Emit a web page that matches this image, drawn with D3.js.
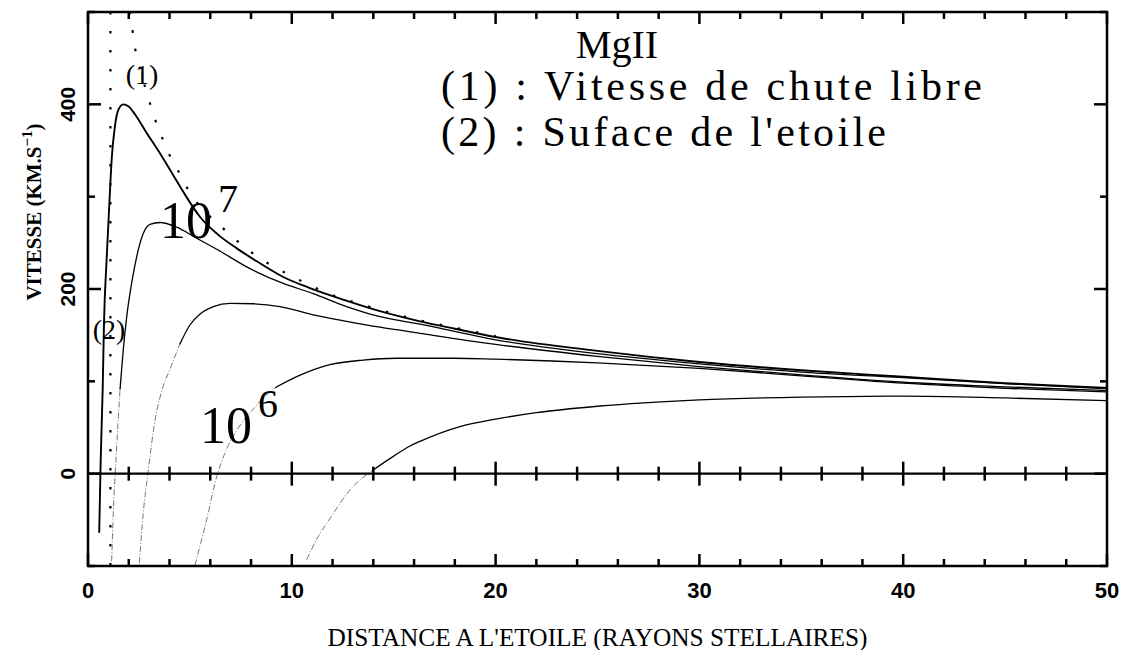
<!DOCTYPE html>
<html>
<head>
<meta charset="utf-8">
<script src="https://cdn.jsdelivr.net/npm/d3@7"></script>
<style>
  body { margin: 0; background: #fff; }
</style>
</head>
<body>
<svg id="chart" width="1123" height="650"></svg>
<script>
// velocity profiles [distance (stellar radii), velocity (km/s)]
const curveA = [[0.55,-64],[0.62,12],[0.72,91],[0.785,163],[0.92,235],[1.08,307],[1.16,340],[1.32,376],[1.49,394],[1.73,400],[1.98,398],[2.31,389],[2.88,369],[3.53,347],[4.19,323],[4.68,305],[5.5,278],[6.32,260],[7.3,244],[8.28,230],[9.58,213],[10.89,201],[12.6,188],[14.33,176],[16.29,165],[18,157],[20,148],[25,133],[30,121],[35,112],[40,105],[45,98],[50,93]];
const curveB = [[1.16,-95],[1.24,-43],[1.41,30],[1.57,91],[1.73,134],[1.9,170],[2.14,206],[2.39,235],[2.71,260],[3.04,270],[3.53,272],[4.35,267],[5.33,255],[6.32,243],[7.95,222],[9.58,206],[11.05,195],[12.69,181],[14.33,170],[16.29,162],[20,145],[25,130],[30,119],[35,110],[40,104],[45,97.5],[50,92]];
const curveC = [[2.52,-97],[2.71,-43],[2.96,4],[3.29,58],[3.7,95],[4.02,113],[4.5,140],[5.0,161],[5.5,173],[6.15,181],[6.97,184.5],[8.11,184],[9.42,181],[11.05,172],[12.69,165],[14.33,158.6],[16.29,152],[20,140],[25,127],[30,116],[35,107],[40,99],[45,94],[50,90]];
const curveD = [[5.25,-99],[5.82,-50],[6.32,-3],[6.81,27],[7.3,47],[7.79,62],[8.11,70],[8.6,82],[9.18,93],[10.24,105],[11.87,118],[13.5,123],[15.14,125],[16.29,125],[18,125],[20,124],[25,120],[30,114],[35,106],[40,98],[45,92.5],[50,88.5]];
const curveE = [[10.73,-93],[11.3,-68],[11.71,-54],[13.0,-14],[13.99,4],[15.0,19],[15.8,30],[16.29,35],[18.25,51],[20,59],[22,66],[25,73],[30,80],[35,83],[40,84],[45,82],[50,79]];
// where each profile turns from the faint dashed trace into a solid line
const solidFrom = [0, 1.57, 4.5, 9.18, 13.99];

// (1) free-fall velocity, dotted
const freeFall = [[2.05,500],[2.14,488],[2.26,467],[2.47,446],[2.96,407],[3.24,387],[3.58,367],[3.96,347],[4.42,328],[4.88,309],[6.81,262],[7.54,248],[8.31,235],[9.13,224],[9.99,214],[10.81,205],[11.68,196],[12.56,189],[13.48,183],[14.38,177],[16.29,166],[18,158],[20,149]];
// (2) stellar surface, dotted vertical
const surfaceX = 1.1;

const xTickLabels = [0, 10, 20, 30, 40, 50];
const yTickLabels = [0, 200, 400];
const legendLines = ["MgII", "(1) : Vitesse de chute libre", "(2) : Suface de l'etoile"];

const svg = d3.select("#chart");

const x = d3.scaleLinear().domain([0, 50]).range([88, 1107]);
const y = d3.scaleLinear().domain([-100, 500]).range([566, 12]);

const xMinor = d3.range(0, 51, 2);
const yMinor = d3.range(-100, 501, 100);

svg.append("clipPath").attr("id", "plot-clip")
  .append("rect")
  .attr("x", x(0)).attr("y", y(500))
  .attr("width", x(50) - x(0)).attr("height", y(-100) - y(500));

const plot = svg.append("g").attr("clip-path", "url(#plot-clip)");

const line = d3.line()
  .x(d => x(d[0]))
  .y(d => y(d[1]))
  .curve(d3.curveMonotoneX);

// dotted references
plot.append("path")
  .attr("d", line(freeFall))
  .attr("fill", "none")
  .attr("stroke", "#000")
  .attr("stroke-width", 2.2)
  .attr("stroke-dasharray", "2.5,16");

plot.append("line")
  .attr("x1", x(surfaceX)).attr("x2", x(surfaceX))
  .attr("y1", y(500)).attr("y2", y(-100))
  .attr("stroke", "#000")
  .attr("stroke-width", 2.2)
  .attr("stroke-dasharray", "2.5,16.5");

// velocity profiles
[curveA, curveB, curveC, curveD, curveE].forEach((c, i) => {
  const cut = solidFrom[i];
  const faint = c.filter(d => d[0] <= cut);
  const solid = c.filter(d => d[0] >= cut);
  if (faint.length > 1) {
    plot.append("path")
      .attr("d", line(faint))
      .attr("fill", "none")
      .attr("stroke", "#777")
      .attr("stroke-width", 1)
      .attr("stroke-dasharray", "6,2,1,2");
  }
  plot.append("path")
    .attr("d", line(solid))
    .attr("fill", "none")
    .attr("stroke", "#000")
    .attr("stroke-width", i === 0 ? 1.9 : 1.3);
});

// tick marks as small rects placed through the scales
const ticks = svg.append("g").attr("fill", "#000");
const tickW = 2.5;

xMinor.forEach(v => {
  const L = v % 10 === 0 ? 12 : 7;
  const cx = x(v) - tickW / 2;
  ticks.append("rect").attr("x", cx).attr("y", y(-100) - L).attr("width", tickW).attr("height", L);
  ticks.append("rect").attr("x", cx).attr("y", y(500)).attr("width", tickW).attr("height", L);
  if (v > 0 && v < 50) {
    ticks.append("rect").attr("x", cx).attr("y", y(0) - L).attr("width", tickW).attr("height", 2 * L);
  }
});

yMinor.forEach(v => {
  const L = v % 200 === 0 ? 13 : 7;
  const cy = y(v) - tickW / 2;
  ticks.append("rect").attr("x", x(0)).attr("y", cy).attr("width", L).attr("height", tickW);
  ticks.append("rect").attr("x", x(50) - L).attr("y", cy).attr("width", L).attr("height", tickW);
});

// frame and zero line
svg.append("rect")
  .attr("x", x(0)).attr("y", y(500))
  .attr("width", x(50) - x(0)).attr("height", y(-100) - y(500))
  .attr("fill", "none")
  .attr("stroke", "#000")
  .attr("stroke-width", 2.5);

svg.append("line")
  .attr("x1", x(0)).attr("x2", x(50))
  .attr("y1", y(0)).attr("y2", y(0))
  .attr("stroke", "#000")
  .attr("stroke-width", 2.2);

// tick labels
svg.append("g")
  .selectAll("text")
  .data(xTickLabels)
  .join("text")
  .attr("x", d => x(d))
  .attr("y", 598)
  .attr("text-anchor", "middle")
  .attr("font-family", "Liberation Sans, Arial, sans-serif")
  .attr("font-weight", "bold")
  .attr("font-size", 22)
  .text(d => d);

svg.append("g")
  .selectAll("text")
  .data(yTickLabels)
  .join("text")
  .attr("transform", d => `translate(75, ${y(d)}) rotate(-90)`)
  .attr("text-anchor", "middle")
  .attr("font-family", "Liberation Sans, Arial, sans-serif")
  .attr("font-weight", "bold")
  .attr("font-size", 21)
  .text(d => d);

// axis titles
const serif = "Liberation Serif, Times New Roman, serif";

svg.append("text")
  .attr("x", (x(0) + x(50)) / 2)
  .attr("y", 646)
  .attr("text-anchor", "middle")
  .attr("font-family", serif)
  .attr("font-size", 25)
  .attr("textLength", 540)
  .attr("lengthAdjust", "spacingAndGlyphs")
  .text("DISTANCE A L'ETOILE (RAYONS STELLAIRES)");

const yTitle = svg.append("text")
  .attr("transform", "translate(41, 212) rotate(-90)")
  .attr("text-anchor", "middle")
  .attr("font-family", serif)
  .attr("font-weight", "bold")
  .attr("font-size", 21);
yTitle.append("tspan").text("VITESSE (KM.S");
yTitle.append("tspan").attr("dy", -9).attr("font-size", 15).text("−1");
yTitle.append("tspan").attr("dy", 9).text(")");

// legend
svg.append("text")
  .attr("x", 617).attr("y", 58)
  .attr("text-anchor", "middle")
  .attr("font-family", serif).attr("font-size", 40)
  .text(legendLines[0]);
svg.append("text")
  .attr("x", 441).attr("y", 100)
  .attr("font-family", serif).attr("font-size", 42)
  .attr("textLength", 541).attr("lengthAdjust", "spacing")
  .text(legendLines[1]);
svg.append("text")
  .attr("x", 441).attr("y", 146)
  .attr("font-family", serif).attr("font-size", 42)
  .attr("textLength", 445).attr("lengthAdjust", "spacing")
  .text(legendLines[2]);

// curve annotations
svg.append("text")
  .attr("x", 142).attr("y", 84)
  .attr("text-anchor", "middle")
  .attr("font-family", serif).attr("font-size", 28)
  .text("(1)");
svg.append("text")
  .attr("x", 109).attr("y", 339)
  .attr("text-anchor", "middle")
  .attr("font-family", serif).attr("font-size", 28)
  .text("(2)");

const power = [
  { base: "10", exp: "7", x: 160, y: 238, ex: 218, ey: 212 },
  { base: "10", exp: "6", x: 200, y: 443, ex: 258, ey: 417 }
];
power.forEach(p => {
  svg.append("text")
    .attr("x", p.x).attr("y", p.y)
    .attr("font-family", serif).attr("font-size", 52)
    .text(p.base);
  svg.append("text")
    .attr("x", p.ex).attr("y", p.ey)
    .attr("font-family", serif).attr("font-size", 40)
    .text(p.exp);
});
</script>
</body>
</html>
